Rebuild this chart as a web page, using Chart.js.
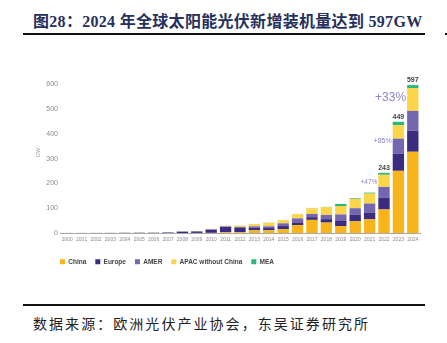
<!DOCTYPE html>
<html>
<head>
<meta charset="utf-8">
<script src="https://cdn.jsdelivr.net/npm/chart.js@4.4.0/dist/chart.umd.min.js"></script>
<style>
  html, body { margin: 0; padding: 0; background: #fff; width: 447px; height: 343px; overflow: hidden; position: relative; }
  .title { position: absolute; left: 33px; top: 8px; white-space: nowrap; color: #25305c; letter-spacing: 0.3px;
    font: bold 16px "Liberation Serif", "Noto Sans CJK SC", serif; }
  .rule { position: absolute; left: 23px; width: 402px; height: 2px; background: #111; }
  .tick { position: absolute; left: 445px; width: 2px; height: 2px; background: #111; }
  .source { position: absolute; left: 33px; top: 313px; white-space: nowrap; color: #222;
    font: 14px "Noto Sans CJK SC", sans-serif; letter-spacing: 2.05px; }
  #wrap { position: absolute; left: 0; top: 40px; width: 447px; height: 235px; }
</style>
</head>
<body>
<div class="title">图28：2024 年全球太阳能光伏新增装机量达到 597GW</div>
<div class="rule" style="top:33px"></div>
<div class="tick" style="top:33px"></div>
<div id="wrap"><canvas id="chart"></canvas></div>
<div class="rule" style="top:304px"></div>
<div class="source">数据来源：欧洲光伏产业协会，东吴证券研究所</div>

<script>
/* ── Data (GW, annual new installations) ───────────────────────── */
var years = ['2000','2001','2002','2003','2004','2005','2006','2007','2008','2009','2010','2011','2012',
             '2013','2014','2015','2016','2017','2018','2019','2020','2021','2022','2023','2024'];
var china  = [0, 0, 0, 0, 0, 0, 0, 0.02, 0.05, 0.2, 0.5, 2.7, 3.5, 11, 11, 15, 32, 53, 42, 28, 47, 55, 95, 251, 328];
var europe = [0.2, 0.3, 0.4, 0.5, 0.9, 1.1, 1.1, 2, 5.5, 6, 13, 22, 17, 11, 9, 13, 11, 11, 14, 23, 26, 28, 47, 69, 85];
var amer   = [0.02, 0.03, 0.05, 0.06, 0.1, 0.1, 0.15, 0.25, 0.4, 0.5, 1, 2, 4, 5, 7, 11, 16, 13, 17, 24, 27, 36, 44, 61, 80];
var apac   = [0.1, 0.15, 0.2, 0.25, 0.3, 0.3, 0.35, 0.3, 0.5, 0.8, 2, 2.5, 5, 9, 14, 13, 17, 23, 31, 34, 38, 40, 49, 54, 92];
var mea    = [0, 0, 0, 0, 0, 0, 0, 0, 0, 0, 0, 0.2, 0.3, 0.5, 0.6, 0.8, 1, 1.2, 1.5, 8, 3, 4, 8, 14, 12];
var yTicks = [0, 100, 200, 300, 400, 500, 600];

// totals shown above the last three bars, growth rates to their left
var totalYears  = ['2022', '2023', '2024'];
var growthYears = ['2022', '2023', '2024'];
var growthText  = ['+47%', '+85%', '+33%'];

var COLORS = {
  china: '#f8b51b',
  europe: '#3c2c7f',
  amer: '#7467b0',
  apac: '#fcd54b',
  mea: '#2bb77a'
};

function totalAt(i) {
  return china[i] + europe[i] + amer[i] + apac[i] + mea[i];
}

/* ── Labels drawn on top of the bars ───────────────────────────── */
var barLabels = {
  id: 'barLabels',
  afterDatasetsDraw: function(chart, args, opts) {
    var ctx = chart.ctx;
    var ys = chart.scales.y;
    var meta = chart.getDatasetMeta(0);
    ctx.save();
    ctx.textAlign = 'center';
    ctx.textBaseline = 'alphabetic';
    ctx.fillStyle = '#444';
    ctx.font = "bold 7px 'Liberation Sans', Arial, sans-serif";
    totalYears.forEach(function(yr) {
      var i = years.indexOf(yr);
      var tot = totalAt(i);
      ctx.fillText(String(Math.round(tot)), meta.data[i].x, ys.getPixelForValue(tot) - 3);
    });
    ctx.textAlign = 'right';
    ctx.textBaseline = 'middle';
    ctx.fillStyle = '#8a86c6';
    growthYears.forEach(function(yr, k) {
      var i = years.indexOf(yr);
      var bar = meta.data[i];
      ctx.font = opts.sizes[k] + "px 'Liberation Sans', Arial, sans-serif";
      ctx.fillText(growthText[k], bar.x - bar.width / 2 - 1, ys.getPixelForValue(opts.yAt[k]));
    });
    ctx.restore();
  }
};

// pull the legend over to line up with the plot's left edge
var legendShift = {
  id: 'legendShift',
  afterLayout: function(chart) {
    var lg = chart.legend;
    var d = lg.left - (chart.chartArea.left - 9);
    lg.left -= d;
    lg.right -= d;
  }
};

var tickFont = { family: "'Liberation Sans', Arial, sans-serif", size: 5 };

new Chart(document.getElementById('chart'), {
  type: 'bar',
  data: {
    labels: years,
    datasets: [
      { label: 'China', data: china, backgroundColor: COLORS.china },
      { label: 'Europe', data: europe, backgroundColor: COLORS.europe },
      { label: 'AMER', data: amer, backgroundColor: COLORS.amer },
      { label: 'APAC without China', data: apac, backgroundColor: COLORS.apac },
      { label: 'MEA', data: mea, backgroundColor: COLORS.mea }
    ]
  },
  options: {
    responsive: true,
    maintainAspectRatio: false,
    animation: false,
    barPercentage: 0.79,
    categoryPercentage: 1,
    layout: { padding: { left: 35, right: 27, top: 32, bottom: 0 } },
    scales: {
      x: {
        stacked: true,
        afterFit: function(scale) { scale.height = 16.5; },
        grid: { display: false, drawTicks: false },
        border: { display: true, color: '#a8a8a8', width: 1 },
        ticks: { color: '#8a8a8a', font: tickFont, padding: 3.5, maxRotation: 0, autoSkip: false }
      },
      y: {
        stacked: true,
        min: 0,
        max: 650,
        afterBuildTicks: function(scale) {
          scale.ticks = yTicks.map(function(v) { return { value: v }; });
        },
        afterFit: function(scale) { scale.width = 25; },
        grid: { display: false, drawTicks: false },
        border: { display: false },
        ticks: { color: '#8a8a8a', font: { family: tickFont.family, size: 7 }, padding: 2 },
        title: { display: true, text: 'GW', color: '#9a9a9a', font: { family: tickFont.family, size: 5.5 }, padding: 0 }
      }
    },
    plugins: {
      legend: {
        position: 'bottom',
        align: 'start',
        fullSize: false,
        labels: {
          boxWidth: 5,
          boxHeight: 5,
          padding: 9,
          color: '#444',
          font: { family: tickFont.family, size: 6.5, weight: 'bold' }
        }
      },
      tooltip: { enabled: false },
      barLabels: { yAt: [205, 371, 547], sizes: [6.5, 7, 12] }
    }
  },
  plugins: [barLabels, legendShift]
});
</script>
</body>
</html>
